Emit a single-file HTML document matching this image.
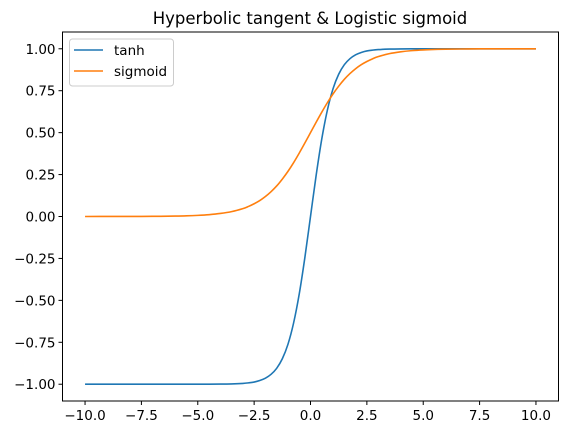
<!DOCTYPE html>
<html><head><meta charset="utf-8"><style>
html,body{margin:0;padding:0;background:#fff;}
svg{display:block;font-family:"DejaVu Sans","Liberation Sans",sans-serif;}
</style></head><body>
<svg id="chart" width="568" height="435">
<text x="310" y="24" font-size="16.5" text-anchor="middle">Hyperbolic tangent &amp; Logistic sigmoid</text>
<g id="plot"></g>
<rect x="62.5" y="32" width="496" height="369" fill="none" stroke="#000" stroke-width="1"/>
<g>
<rect x="69.5" y="39" width="104" height="47" rx="3" fill="#fff" fill-opacity="0.8" stroke="#ccc"/>
<line x1="74" y1="50" x2="103" y2="50" stroke="#1f77b4" stroke-width="1.5"/>
<text x="114" y="55" font-size="13.5">tanh</text>
<line x1="74" y1="71" x2="103" y2="71" stroke="#ff7f0e" stroke-width="1.5"/>
<text x="114" y="76" font-size="13.5">sigmoid</text>
</g>
</svg>
<script>
const xs=[-10,-9,-8,-7,-6,-5.5,-5,-4.5,-4,-3.5,-3,-2.75,-2.5,-2.25,-2,-1.75,-1.5,-1.25,-1,-0.75,-0.5,-0.25,0,0.25,0.5,0.75,1,1.25,1.5,1.75,2,2.25,2.5,2.75,3,3.5,4,4.5,5,5.5,6,7,8,9,10];
const tanhVals=[-1,-1,-1,-1,-1,-1,-0.9999,-0.9998,-0.9993,-0.998,-0.995,-0.992,-0.987,-0.978,-0.964,-0.941,-0.905,-0.848,-0.762,-0.635,-0.462,-0.245,0,0.245,0.462,0.635,0.762,0.848,0.905,0.941,0.964,0.978,0.987,0.992,0.995,0.998,0.9993,0.9998,0.9999,1,1,1,1,1,1];
const sigmoidVals=[0.00005,0.0001,0.0003,0.0009,0.0025,0.004,0.0067,0.011,0.018,0.029,0.047,0.060,0.076,0.095,0.119,0.148,0.182,0.223,0.269,0.321,0.378,0.438,0.5,0.562,0.622,0.679,0.731,0.777,0.818,0.852,0.881,0.905,0.924,0.940,0.953,0.971,0.982,0.989,0.9933,0.996,0.9975,0.9991,0.9997,0.9999,0.99995];
const xTicks=[-10,-7.5,-5,-2.5,0,2.5,5,7.5,10];
const xTickLabels=["\u221210.0","\u22127.5","\u22125.0","\u22122.5","0.0","2.5","5.0","7.5","10.0"];
const yTicks=[-1,-0.75,-0.5,-0.25,0,0.25,0.5,0.75,1];
const yTickLabels=["\u22121.00","\u22120.75","\u22120.50","\u22120.25","0.00","0.25","0.50","0.75","1.00"];

const L=62.5,R=558.5,T=32,B=401;
function sx(v){return L+(v+11)/22*(R-L);}
function sy(v){return B-(v+1.1)/2.2*(B-T);}
const NS="http://www.w3.org/2000/svg";
const g=document.getElementById('plot');
function mk(t,a){const e=document.createElementNS(NS,t);for(const k in a)e.setAttribute(k,a[k]);g.appendChild(e);return e;}
xTicks.forEach((v,i)=>{
  const l=mk('line',{x1:sx(v),x2:sx(v),y1:B,y2:B+4,stroke:'#000'});
  
  
  const t=mk('text',{x:sx(v),y:B+19,'font-size':13.5,'text-anchor':'middle'});
  t.textContent=xTickLabels[i];
  
  
});
yTicks.forEach((v,i)=>{
  const l=mk('line',{x1:L-4,x2:L,y1:sy(v),y2:sy(v),stroke:'#000'});
  
  
  const t=mk('text',{x:L-7,y:sy(v)+5,'font-size':13.5,'text-anchor':'end'});
  t.textContent=yTickLabels[i];
  
  
});
function line(vals,color,name){
  const P=xs.map((x,i)=>[sx(x),sy(vals[i])]);
  let d='M'+P[0][0].toFixed(2)+','+P[0][1].toFixed(2);
  for(let i=0;i<P.length-1;i++){
    const p0=P[Math.max(i-1,0)],p1=P[i],p2=P[i+1],p3=P[Math.min(i+2,P.length-1)];
    const c1=[p1[0]+(p2[0]-p0[0])/6,p1[1]+(p2[1]-p0[1])/6];
    const c2=[p2[0]-(p3[0]-p1[0])/6,p2[1]-(p3[1]-p1[1])/6];
    d+=' C'+c1.map(v=>v.toFixed(2)).join(',')+' '+c2.map(v=>v.toFixed(2)).join(',')+' '+p2.map(v=>v.toFixed(2)).join(',');
  }
  const p=mk('path',{d:d,fill:'none',stroke:color,'stroke-width':1.6,'stroke-linejoin':'round'});
  
  
}
line(tanhVals,'#1f77b4','tanh-line');
line(sigmoidVals,'#ff7f0e','sigmoid-line');
</script>
</body></html>
